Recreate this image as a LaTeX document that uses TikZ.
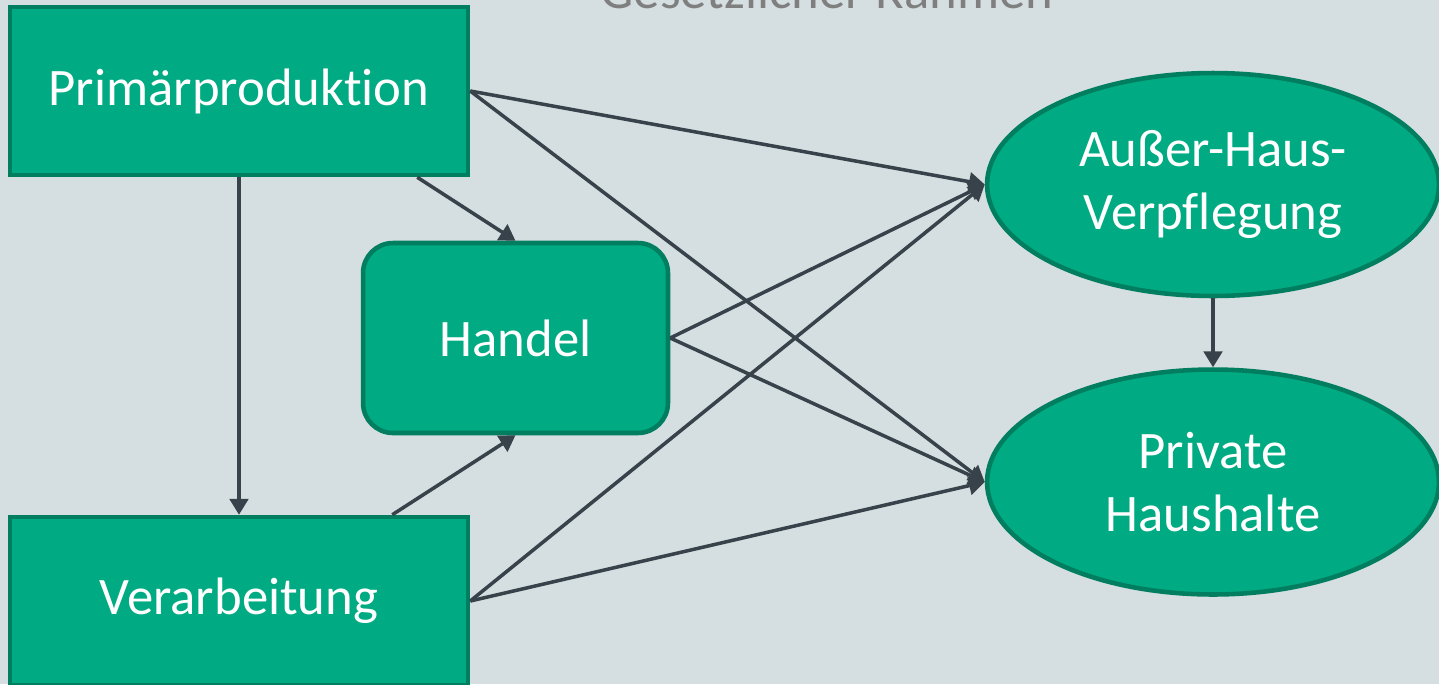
\documentclass[tikz,border=0pt]{standalone}
\usepackage{fontspec}
\setmainfont{Carlito}[Ligatures=NoCommon]
\usetikzlibrary{arrows.meta,shapes.geometric}

\definecolor{bg}{HTML}{D5DEE0}
\definecolor{boxgreen}{HTML}{00AA82}
\definecolor{boxedge}{HTML}{007E5F}
\definecolor{arrowgray}{HTML}{37424A}
\definecolor{titlegray}{HTML}{7F7F7F}

\tikzset{
	stage/.style={draw=boxedge, fill=boxgreen, line width=2.6pt, text=white,
		font=\fontsize{30}{36}\selectfont, inner sep=0pt, align=center},
	stagebox/.style={stage, rectangle, minimum width=9.16cm, minimum height=3.36cm},
	tradebox/.style={stage, rectangle, rounded corners=0.6cm, minimum width=6.1cm, minimum height=3.8cm},
	consumer/.style={stage, ellipse, minimum width=9.04cm, minimum height=4.46cm},
	flow/.style={draw=arrowgray, line width=2pt, -{Triangle[length=9pt,width=10.5pt]}}
}

\begin{document}
\begin{tikzpicture}[x=0.02cm, y=-0.02cm]
	% Background and frame
	\fill[bg] (0,0) rectangle (1439,684);
	\useasboundingbox (0,0) rectangle (1439,684);

	% Title (cut off at the top)
	\node[anchor=base, text=titlegray, font=\fontsize{30}{36}\selectfont] (rahmen) at (827,8) {Gesetzlicher Rahmen};

	% Draw stages
	\node[stagebox] (prim) at (239,91) {Primärproduktion};
	\node[stagebox] (verarb) at (239,601) {Verarbeitung};
	\node[tradebox] (handel) at (515.5,338) {Handel};

	% Draw consumers
	\node[consumer] (ahv) at (1213,184.5) {Außer-Haus-\\Verpflegung};
	\node[consumer, minimum height=4.5cm] (privat) at (1213,482) {Private\\Haushalte};

	% Flows from Primärproduktion
	\draw[flow] (prim.south) -- (verarb.north);
	\draw[flow] ([xshift=-1.06cm]prim.south east) -- (handel.north);
	\draw[flow] (prim.east) -- (ahv.west);
	\draw[flow] (prim.east) -- (privat.west);

	% Flows from Verarbeitung
	\draw[flow] ([xshift=-1.56cm]verarb.north east) -- (handel.south);
	\draw[flow] (verarb.east) -- (ahv.west);
	\draw[flow] (verarb.east) -- (privat.west);

	% Flows from Handel
	\draw[flow] (handel.east) -- (ahv.west);
	\draw[flow] (handel.east) -- (privat.west);

	% Außer-Haus to households
	\draw[flow] (ahv.south) -- (privat.north);
\end{tikzpicture}
\end{document}
